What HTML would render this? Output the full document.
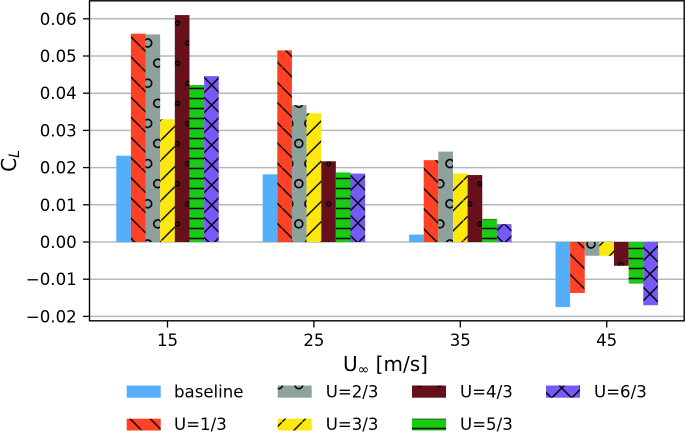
<!DOCTYPE html>
<html>
<head>
<meta charset="utf-8">
<style>
html,body{margin:0;padding:0;background:#fff;}
svg{display:block;}
text{font-family:"DejaVu Sans","Liberation Sans",sans-serif;fill:#000;}
</style>
</head>
<body>
<svg id="chart" xmlns="http://www.w3.org/2000/svg" width="685" height="432" viewBox="0 0 685 432">
<defs>
<pattern id="h-red" patternUnits="userSpaceOnUse" x="0" y="6.6" width="20.15" height="20.15">
<rect width="20.15" height="20.15" fill="#ff4125"/>
<line x1="-2" y1="-2" x2="22.15" y2="22.15" stroke="#000" stroke-width="1.4"/>
</pattern>
<pattern id="h-yellow" patternUnits="userSpaceOnUse" x="0" y="-1.15" width="20.15" height="20.15">
<rect width="20.15" height="20.15" fill="#fce80e"/>
<line x1="-2" y1="22.15" x2="22.15" y2="-2" stroke="#000" stroke-width="1.4"/>
</pattern>
<pattern id="h-purple-15" patternUnits="userSpaceOnUse" x="211.7" y="85" width="20" height="20">
<rect width="20" height="20" fill="#7659f6"/>
<path d="M-2-2L22 22M-2 22L22-2" stroke="#000" stroke-width="1.4"/>
</pattern>
<pattern id="h-purple-25" patternUnits="userSpaceOnUse" x="357.9" y="183" width="20" height="20">
<rect width="20" height="20" fill="#7659f6"/>
<path d="M-2-2L22 22M-2 22L22-2" stroke="#000" stroke-width="1.4"/>
</pattern>
<pattern id="h-purple-35" patternUnits="userSpaceOnUse" x="504" y="223.5" width="20" height="20">
<rect width="20" height="20" fill="#7659f6"/>
<path d="M-2-2L22 22M-2 22L22-2" stroke="#000" stroke-width="1.4"/>
</pattern>
<pattern id="h-purple-45" patternUnits="userSpaceOnUse" x="650" y="254" width="20" height="20">
<rect width="20" height="20" fill="#7659f6"/>
<path d="M-2-2L22 22M-2 22L22-2" stroke="#000" stroke-width="1.4"/>
</pattern>
<pattern id="h-purple-legend" patternUnits="userSpaceOnUse" x="551.7" y="398" width="20" height="20">
<rect width="20" height="20" fill="#7659f6"/>
<path d="M-2-2L22 22M-2 22L22-2" stroke="#000" stroke-width="1.4"/>
</pattern>
<pattern id="h-green" patternUnits="userSpaceOnUse" x="0" y="3.5" width="20" height="10">
<rect width="20" height="10" fill="#19cb14"/>
<line x1="0" y1="5" x2="20" y2="5" stroke="#000" stroke-width="1.4"/>
</pattern>
<pattern id="h-gray" patternUnits="userSpaceOnUse" x="147.7" y="43" width="20.15" height="40.2">
<rect width="20.15" height="40.2" fill="#8fa19d"/>
<g fill="none" stroke="#000" stroke-width="1.6">
<circle cx="0" cy="0" r="4"/><circle cx="20.15" cy="0" r="4"/>
<circle cx="0" cy="40.2" r="4"/><circle cx="20.15" cy="40.2" r="4"/>
<circle cx="10.07" cy="20.1" r="4"/>
</g>
</pattern>
<pattern id="h-maroon" patternUnits="userSpaceOnUse" x="177.5" y="23" width="20.15" height="40.2">
<rect width="20.15" height="40.2" fill="#66101b"/>
<g fill="none" stroke="#000" stroke-width="1.4">
<circle cx="0" cy="0" r="2"/><circle cx="20.15" cy="0" r="2"/>
<circle cx="0" cy="40.2" r="2"/><circle cx="20.15" cy="40.2" r="2"/>
<circle cx="10.07" cy="20.1" r="2"/>
</g>
</pattern>
</defs>

<g id="grid"></g>
<g id="bars"></g>
<g id="axes"></g>

<rect x="89.5" y="0.8" width="594.7" height="320" fill="none" stroke="#000" stroke-width="1.4"/>

<text x="343" y="371" font-size="20">U<tspan font-size="14" dy="3">∞</tspan><tspan dy="-3"> [m/s]</tspan></text>
<text transform="translate(16,161) rotate(-90)" font-size="20" text-anchor="middle">C<tspan font-size="14" font-style="italic" dy="3">L</tspan></text>

<g font-size="16.6">
<g><rect x="126.7" y="385.5" width="34" height="12.2" fill="#55aef8"/><text x="174" y="397.3">baseline</text></g>
<g><rect x="126.7" y="418.7" width="34" height="11.8" fill="url(#h-red)"/><text x="174" y="430">U=1/3</text></g>
<g><rect x="277.7" y="385.5" width="34" height="12.2" fill="url(#h-gray)"/><text x="325.7" y="397.3">U=2/3</text></g>
<g><rect x="277.7" y="418.7" width="34" height="11.8" fill="url(#h-yellow)"/><text x="325.7" y="430">U=3/3</text></g>
<g><rect x="412" y="385.5" width="34" height="12.2" fill="url(#h-maroon)"/><text x="460" y="397.3">U=4/3</text></g>
<g><rect x="412" y="418.7" width="34" height="11.8" fill="url(#h-green)"/><text x="460" y="430">U=5/3</text></g>
<g><rect x="546" y="385.5" width="34" height="12.2" fill="url(#h-purple-legend)"/><text x="594" y="397.3">U=6/3</text></g>
</g>
</svg>

<script>
var categories = [15, 25, 35, 45];
var yTicks = [0.06, 0.05, 0.04, 0.03, 0.02, 0.01, 0, -0.01, -0.02];
var yTickLabels = ["0.06", "0.05", "0.04", "0.03", "0.02", "0.01", "0.00", "\u22120.01", "\u22120.02"];
var baseline = [0.0232, 0.0182, 0.0020, -0.0175];
var u13 = [0.0560, 0.0515, 0.0220, -0.0137];
var u23 = [0.0558, 0.0368, 0.0243, -0.0037];
var u33 = [0.0330, 0.0346, 0.0184, -0.0037];
var u43 = [0.0610, 0.0217, 0.0180, -0.0064];
var u53 = [0.0422, 0.0187, 0.0062, -0.0112];
var u63 = [0.0446, 0.0184, 0.0048, -0.0170];
var seriesNames = ["baseline", "u-1-3", "u-2-3", "u-3-3", "u-4-3", "u-5-3", "u-6-3"];
var seriesValues = [baseline, u13, u23, u33, u43, u53, u63];
var seriesFills = ["#55aef8", "url(#h-red)", "url(#h-gray)", "url(#h-yellow)", "url(#h-maroon)", "url(#h-green)", null];

var NS = "http://www.w3.org/2000/svg";
function xScale(v) { return 167.5 + (v - 15) * 14.64; }
function yScale(v) { return 242 - v * 3720; }
function make(tag, attrs, parent) {
  var el = document.createElementNS(NS, tag);
  for (var k in attrs) { el.setAttribute(k, attrs[k]); }
  parent.appendChild(el);
  return el;
}

var gridG = document.getElementById("grid");
var barsG = document.getElementById("bars");
var axesG = document.getElementById("axes");

yTicks.forEach(function (t, i) {
  var y = yScale(t);
  var g = make("line", {x1: 89.5, x2: 684, y1: y, y2: y, stroke: "#b0bcbc", "stroke-width": 1.5}, gridG);
  
  
  var m = make("line", {x1: 83, x2: 89.5, y1: y, y2: y, stroke: "#000", "stroke-width": 1.3}, axesG);
  
  
  var l = make("text", {x: 76.7, y: y + 6, "font-size": 16.6, "text-anchor": "end"}, axesG);
  
  
  l.textContent = yTickLabels[i];
});

categories.forEach(function (c) {
  var x = xScale(c);
  var m = make("line", {x1: x, x2: x, y1: 321, y2: 327.5, stroke: "#000", "stroke-width": 1.3}, axesG);
  
  
  var l = make("text", {x: x, y: 346, "font-size": 16.6, "text-anchor": "middle"}, axesG);
  
  
  l.textContent = String(c);
});

seriesValues.forEach(function (vals, s) {
  vals.forEach(function (v, i) {
    var x0 = xScale(categories[i] + (s - 3) - 0.5);
    var x1 = xScale(categories[i] + (s - 3) + 0.5);
    var y0 = yScale(Math.max(v, 0));
    var y1 = yScale(Math.min(v, 0));
    var fill = seriesFills[s] || ("url(#h-purple-" + categories[i] + ")");
    var r = make("rect", {x: x0, y: y0, width: x1 - x0, height: y1 - y0, fill: fill}, barsG);
    
    
  });
});
</script>
</body>
</html>
